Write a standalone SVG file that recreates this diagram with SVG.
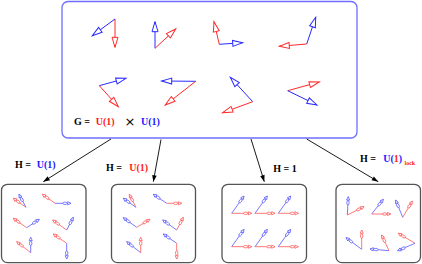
<svg xmlns="http://www.w3.org/2000/svg" width="422" height="264" viewBox="0 0 422 264">
<style>
.r{stroke:#ff2a2a;stroke-width:1;fill:none}
.b{stroke:#2a2aff;stroke-width:1;fill:none}
.sr{stroke:#ff6060;stroke-width:0.85;fill:none}
.sb{stroke:#6060ff;stroke-width:0.85;fill:none}
.conn{stroke:#000;stroke-width:0.9;fill:none}
.t{font-family:"Liberation Serif","Times New Roman",serif;font-weight:bold;font-size:10px;fill:#000}
.red{fill:#ff2020}
.blue{fill:#2020ff}
.box{fill:#fff;stroke:#555;stroke-width:1.3}
</style>
<defs>
<marker id="mr" markerUnits="userSpaceOnUse" refX="0" refY="0" markerWidth="1" markerHeight="1" orient="auto" overflow="visible"><path d="M0,0 L-10,-3 L-10,3 Z" fill="#fff" stroke="#ff2a2a" stroke-width="1"/></marker>
<marker id="mb" markerUnits="userSpaceOnUse" refX="0" refY="0" markerWidth="1" markerHeight="1" orient="auto" overflow="visible"><path d="M0,0 L-10,-3 L-10,3 Z" fill="#fff" stroke="#2a2aff" stroke-width="1"/></marker>
<marker id="sr" markerUnits="userSpaceOnUse" refX="0" refY="0" markerWidth="1" markerHeight="1" orient="auto" overflow="visible"><g fill="#fff" stroke="#ff6060" stroke-width="0.8"><ellipse cx="-6" cy="0" rx="2.2" ry="1.2"/><path d="M0,0 L-3.3,-1.6 L-3.3,1.6 Z"/></g></marker>
<marker id="sb" markerUnits="userSpaceOnUse" refX="0" refY="0" markerWidth="1" markerHeight="1" orient="auto" overflow="visible"><g fill="#fff" stroke="#6060ff" stroke-width="0.8"><ellipse cx="-6" cy="0" rx="2.2" ry="1.2"/><path d="M0,0 L-3.3,-1.6 L-3.3,1.6 Z"/></g></marker>
<marker id="mk" markerUnits="userSpaceOnUse" refX="0" refY="0" markerWidth="1" markerHeight="1" orient="auto" overflow="visible"><path d="M0,0 L-6.5,-2.3 L-6.5,2.3 Z" fill="#000"/></marker>
</defs>

<g id="G">
<rect x="62" y="1.5" width="295" height="136.5" rx="6" fill="#fff" stroke="#6e6eff" stroke-width="1.3"/>
<line class="r" x1="115" y1="19" x2="115" y2="47.3" marker-end="url(#mr)"/>
<line class="b" x1="115" y1="19" x2="92.3" y2="35.7" marker-end="url(#mb)"/>
<line class="b" x1="155" y1="48.3" x2="155" y2="21.7" marker-end="url(#mb)"/>
<line class="r" x1="155" y1="48.3" x2="175.7" y2="29" marker-end="url(#mr)"/>
<line class="r" x1="219.3" y1="44.3" x2="214" y2="21.7" marker-end="url(#mr)"/>
<line class="b" x1="219.3" y1="44.3" x2="242.7" y2="42.7" marker-end="url(#mb)"/>
<line class="b" x1="306.7" y1="44" x2="315.7" y2="17.3" marker-end="url(#mb)"/>
<line class="r" x1="306.7" y1="44" x2="279.3" y2="46.3" marker-end="url(#mr)"/>
<line class="b" x1="99.3" y1="85.7" x2="126" y2="78.3" marker-end="url(#mb)"/>
<line class="r" x1="99.3" y1="85.7" x2="118.3" y2="106.7" marker-end="url(#mr)"/>
<line class="b" x1="195.7" y1="81.3" x2="161.7" y2="81" marker-end="url(#mb)"/>
<line class="r" x1="195.7" y1="81.3" x2="165.3" y2="105" marker-end="url(#mr)"/>
<line class="b" x1="252.7" y1="101.7" x2="230.3" y2="77.3" marker-end="url(#mb)"/>
<line class="r" x1="252.7" y1="101.7" x2="222.7" y2="112.7" marker-end="url(#mr)"/>
<line class="r" x1="287.7" y1="90.7" x2="319.3" y2="82" marker-end="url(#mr)"/>
<line class="b" x1="287.7" y1="90.7" x2="317" y2="105" marker-end="url(#mb)"/>
<text class="t" x="74" y="125">G =</text>
<text class="t red" x="95.7" y="125">U(1)</text>
<text x="124.5" y="126" style="font-family:'DejaVu Sans',sans-serif;font-size:13px;fill:#000">×</text>
<text class="t blue" x="141" y="125">U(1)</text>
</g>

<g id="connectors">
<line class="conn" x1="111" y1="139" x2="43.3" y2="181.7" marker-end="url(#mk)"/>
<line class="conn" x1="161" y1="139.5" x2="153.3" y2="181.7" marker-end="url(#mk)"/>
<line class="conn" x1="251" y1="139" x2="264.3" y2="181.7" marker-end="url(#mk)"/>
<line class="conn" x1="306.7" y1="139" x2="378.3" y2="181.7" marker-end="url(#mk)"/>
<text class="t" x="15" y="168">H =</text>
<text class="t blue" x="36.7" y="168">U(1)</text>
<text class="t" x="106" y="170.5">H =</text>
<text class="t red" x="129.3" y="170.5">U(1)</text>
<text class="t" x="273.3" y="172">H = 1</text>
<text class="t" x="360" y="162">H =</text>
<text class="t" x="383.3" y="162"><tspan class="blue">U(</tspan><tspan class="red">1</tspan><tspan class="blue">)</tspan></text>
<text class="t red" x="404.5" y="164.5" style="font-size:6px">lock</text>
</g>

<g id="H1">
<rect class="box" x="1.5" y="184.3" width="84.5" height="78.3" rx="6"/>
<line class="sr" x1="26" y1="207.3" x2="13.3" y2="198.3" marker-end="url(#sr)"/>
<line class="sb" x1="26" y1="207.3" x2="19" y2="194.3" marker-end="url(#sb)"/>
<line class="sr" x1="55" y1="203.3" x2="42.3" y2="194.3" marker-end="url(#sr)"/>
<line class="sb" x1="55" y1="203.3" x2="71" y2="203.3" marker-end="url(#sb)"/>
<line class="sr" x1="26.7" y1="227.7" x2="13.3" y2="218.3" marker-end="url(#sr)"/>
<line class="sb" x1="26.7" y1="227.7" x2="39.3" y2="219.3" marker-end="url(#sb)"/>
<line class="sr" x1="66.7" y1="230" x2="52.7" y2="220" marker-end="url(#sr)"/>
<line class="sb" x1="66.7" y1="230" x2="73.3" y2="217.3" marker-end="url(#sb)"/>
<line class="sr" x1="30.7" y1="252.7" x2="16.7" y2="241.7" marker-end="url(#sr)"/>
<line class="sb" x1="30.7" y1="252.7" x2="30.7" y2="237.3" marker-end="url(#sb)"/>
<line class="sr" x1="66.7" y1="243.3" x2="53.3" y2="234" marker-end="url(#sr)"/>
<line class="sb" x1="66.7" y1="243.3" x2="66.7" y2="259" marker-end="url(#sb)"/>
</g>

<g id="H2">
<rect class="box" x="111.5" y="184.3" width="84" height="78.3" rx="6"/>
<line class="sb" x1="136" y1="207.3" x2="123.3" y2="198.3" marker-end="url(#sb)"/>
<line class="sr" x1="136" y1="207.3" x2="129.3" y2="194.3" marker-end="url(#sr)"/>
<line class="sb" x1="166.7" y1="203.3" x2="153.3" y2="194.3" marker-end="url(#sb)"/>
<line class="sr" x1="166.7" y1="203.3" x2="181.7" y2="203.3" marker-end="url(#sr)"/>
<line class="sb" x1="136.7" y1="227.3" x2="123.3" y2="217.7" marker-end="url(#sb)"/>
<line class="sr" x1="136.7" y1="227.3" x2="150" y2="219.3" marker-end="url(#sr)"/>
<line class="sb" x1="176.7" y1="230" x2="162.7" y2="220" marker-end="url(#sb)"/>
<line class="sr" x1="176.7" y1="230" x2="183.3" y2="217.3" marker-end="url(#sr)"/>
<line class="sb" x1="140.7" y1="252.7" x2="126.7" y2="241.7" marker-end="url(#sb)"/>
<line class="sr" x1="140.7" y1="252.7" x2="140.7" y2="237.3" marker-end="url(#sr)"/>
<line class="sb" x1="176.7" y1="243.3" x2="163.3" y2="234" marker-end="url(#sb)"/>
<line class="sr" x1="176.7" y1="243.3" x2="176.7" y2="259" marker-end="url(#sr)"/>
</g>

<g id="H3">
<rect class="box" x="222" y="184.3" width="84.5" height="78.3" rx="6"/>
<g id="h3a"><line class="sr" x1="231.7" y1="213.3" x2="251.7" y2="213.3" marker-end="url(#sr)"/><line class="sb" x1="231.7" y1="213.3" x2="244" y2="196" marker-end="url(#sb)"/></g>
<use href="#h3a" x="23.3"/>
<use href="#h3a" x="46.6"/>
<use href="#h3a" y="33.4"/>
<use href="#h3a" x="23.3" y="33.4"/>
<use href="#h3a" x="46.6" y="33.4"/>
</g>

<g id="H4">
<rect class="box" x="336" y="184.3" width="84.5" height="78.3" rx="6"/>
<line class="sb" x1="347.3" y1="215" x2="348.3" y2="196.7" marker-end="url(#sb)"/>
<line class="sr" x1="347.3" y1="215" x2="364" y2="206.7" marker-end="url(#sr)"/>
<line class="sb" x1="371.7" y1="214" x2="383.3" y2="199.3" marker-end="url(#sb)"/>
<line class="sr" x1="371.7" y1="214" x2="390.7" y2="214" marker-end="url(#sr)"/>
<line class="sb" x1="402.7" y1="217.3" x2="395.7" y2="200" marker-end="url(#sb)"/>
<line class="sr" x1="402.7" y1="217.3" x2="412.3" y2="201" marker-end="url(#sr)"/>
<line class="sb" x1="361.7" y1="249.3" x2="346" y2="237.7" marker-end="url(#sb)"/>
<line class="sr" x1="361.7" y1="249.3" x2="361.7" y2="230" marker-end="url(#sr)"/>
<line class="sb" x1="389" y1="250.7" x2="370" y2="249" marker-end="url(#sb)"/>
<line class="sr" x1="389" y1="250.7" x2="381.7" y2="235" marker-end="url(#sr)"/>
<line class="sr" x1="415" y1="243.3" x2="398.3" y2="233.3" marker-end="url(#sr)"/>
<line class="sb" x1="415" y1="243.3" x2="397.7" y2="250.7" marker-end="url(#sb)"/>
</g>
</svg>
